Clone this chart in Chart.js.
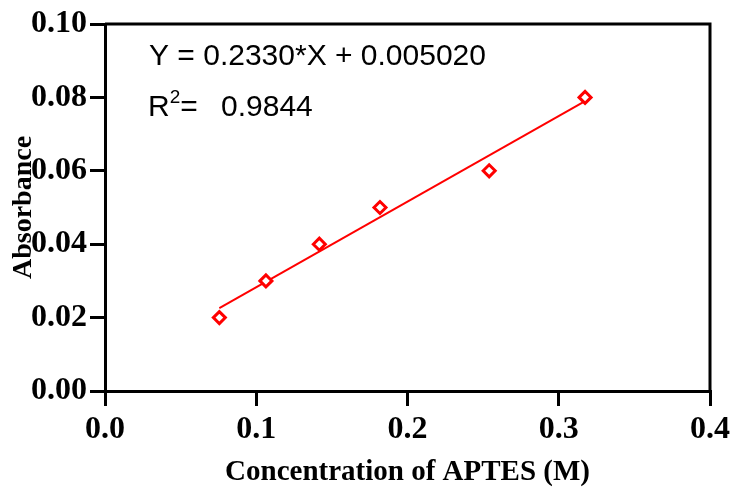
<!DOCTYPE html>
<html>
<head>
<meta charset="utf-8">
<script src="https://cdn.jsdelivr.net/npm/chart.js@4/dist/chart.umd.min.js"></script>
<style>
  html, body { margin: 0; padding: 0; background: #fff; }
  #wrap { width: 732px; height: 490px; }
</style>
</head>
<body>
<div id="wrap"><canvas id="calChart" width="732" height="490"></canvas></div>
<script>
  // calibration data
  var concentration = [0.0756, 0.1064, 0.1417, 0.1818, 0.2540, 0.3174];
  var absorbance = [0.020, 0.030, 0.040, 0.050, 0.060, 0.080];

  // fitted line end points
  var fitX = [0.0756, 0.3174];
  var fitY = [0.0226, 0.0790];

  var xTicks = [0.0, 0.1, 0.2, 0.3, 0.4];
  var yTicks = [0.00, 0.02, 0.04, 0.06, 0.08, 0.10];

  var equationText = 'Y = 0.2330*X + 0.005020';
  var r2Text = '0.9844';

  var points = concentration.map(function (c, i) { return { x: c, y: absorbance[i] }; });
  var fitLine = fitX.map(function (c, i) { return { x: c, y: fitY[i] }; });

  var serifBold = function (size) {
    return { family: '"Liberation Serif", "Times New Roman", serif', size: size, weight: 'bold' };
  };

  // top and right frame lines + regression text
  var framePlugin = {
    id: 'frame',
    afterDraw: function (chart) {
      var ctx = chart.ctx, a = chart.chartArea;
      ctx.save();
      ctx.strokeStyle = '#000';
      ctx.lineWidth = 3;
      ctx.beginPath();
      ctx.moveTo(a.left, a.top);
      ctx.lineTo(a.right, a.top);
      ctx.lineTo(a.right, a.bottom);
      ctx.stroke();

      ctx.fillStyle = '#000';
      ctx.textBaseline = 'alphabetic';
      ctx.font = '30px "Liberation Sans", Arial, sans-serif';
      ctx.fillText(equationText, 149, 65);

      ctx.fillText('R', 148, 116);
      var rw = ctx.measureText('R').width;
      ctx.font = '19px "Liberation Sans", Arial, sans-serif';
      ctx.fillText('2', 148 + rw, 103);
      var tw = ctx.measureText('2').width;
      ctx.font = '30px "Liberation Sans", Arial, sans-serif';
      ctx.fillText('=', 148 + rw + tw, 116);
      ctx.fillText(r2Text, 221, 116);
      ctx.restore();
    }
  };

  var ctx = document.getElementById('calChart').getContext('2d');
  var chart = new Chart(ctx, {
    type: 'scatter',
    data: {
      datasets: [{
        label: 'Absorbance',
        data: points,
        pointStyle: 'rectRot',
        pointRadius: 6,
        pointBorderWidth: 3,
        pointBorderColor: '#ff0000',
        pointBackgroundColor: '#ffffff',
        showLine: false,
        order: 1
      }, {
        label: 'Fit',
        data: fitLine,
        type: 'line',
        showLine: true,
        borderColor: '#ff0000',
        borderWidth: 2,
        pointRadius: 0,
        fill: false,
        order: 2
      }]
    },
    options: {
      responsive: false,
      animation: false,
      layout: { padding: { left: 0, right: 22, top: 24, bottom: 0 } },
      plugins: {
        legend: { display: false },
        tooltip: { enabled: false }
      },
      scales: {
        x: {
          type: 'linear',
          min: 0,
          max: 0.4,
          afterBuildTicks: function (scale) {
            scale.ticks = xTicks.map(function (v) { return { value: v }; });
          },
          afterFit: function (scale) {
            scale.height = 99;
            scale.paddingRight = 0;
          },
          ticks: {
            color: '#000',
            font: serifBold(32),
            padding: 5,
            maxRotation: 0,
            callback: function (v) { return Number(v).toFixed(1); }
          },
          grid: {
            display: true, drawOnChartArea: false, drawTicks: true,
            tickLength: 15, tickWidth: 3, lineWidth: 3, tickColor: '#000', color: '#000'
          },
          border: { display: true, width: 3, color: '#000' },
          title: {
            display: true,
            text: 'Concentration of APTES (M)',
            color: '#000',
            font: serifBold(29),
            padding: { top: 0, bottom: 0 }
          }
        },
        y: {
          type: 'linear',
          min: 0,
          max: 0.1,
          afterBuildTicks: function (scale) {
            scale.ticks = yTicks.map(function (v) { return { value: v }; });
          },
          afterFit: function (scale) { scale.width = 105; },
          ticks: {
            color: '#000',
            font: serifBold(32),
            padding: 3,
            callback: function (v) { return Number(v).toFixed(2); }
          },
          grid: {
            display: true, drawOnChartArea: false, drawTicks: true,
            tickLength: 15, tickWidth: 3, lineWidth: 3, tickColor: '#000', color: '#000'
          },
          border: { display: true, width: 3, color: '#000' },
          title: {
            display: true,
            text: 'Absorbance',
            color: '#000',
            font: serifBold(28),
            padding: { top: 7, bottom: 0 }
          }
        }
      }
    },
    plugins: [framePlugin]
  });
</script>
</body>
</html>
